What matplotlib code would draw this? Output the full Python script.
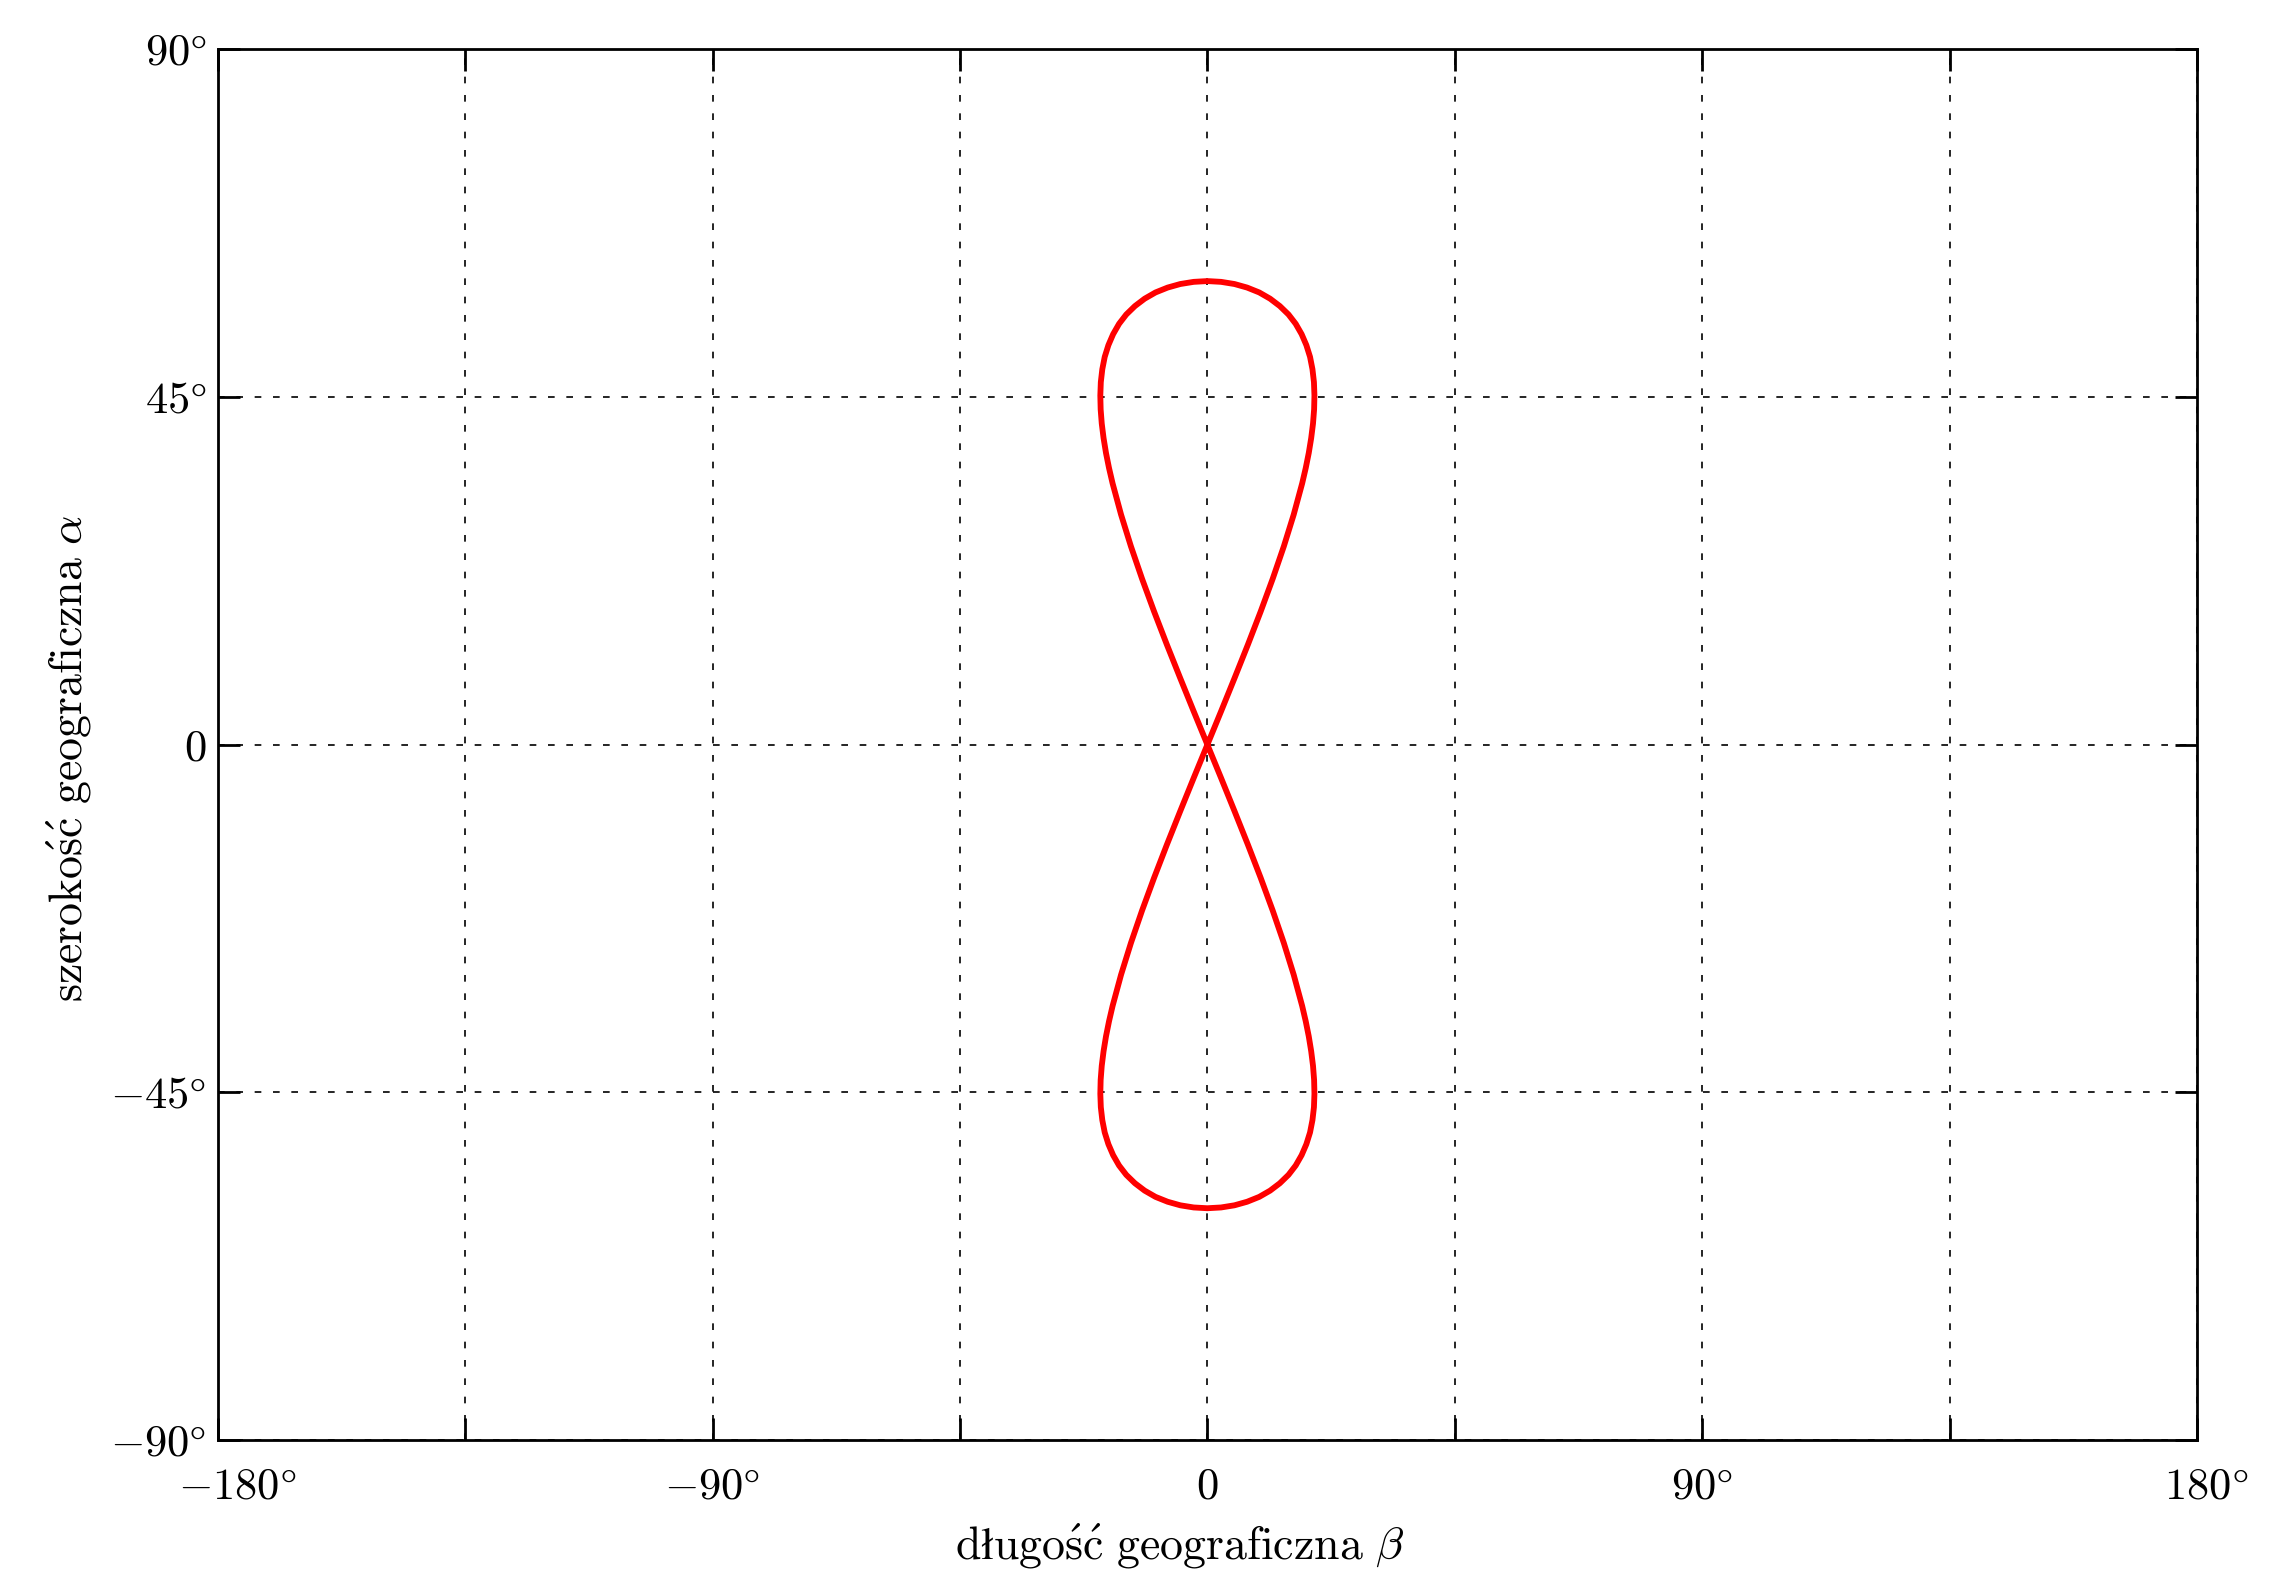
import matplotlib
matplotlib.use("Agg")
import matplotlib.pyplot as plt

# Ground track (longitude beta, latitude alpha), degrees
# upper loop, left branch: origin -> top
ul_lon = [0, -2.50, -4.96, -7.37, -9.69, -11.88, -13.90, -15.70, -17.24, -17.89, -18.44,
          -18.88, -19.21, -19.41, -19.47, -19.38, -19.11, -18.67, -18.00, -17.14, -16.06,
          -14.75, -13.17, -11.41, -9.43, -7.23, -4.93, -2.49, 0]
ul_lat = [0, 4.33, 8.65, 12.95, 17.23, 21.47, 25.66, 29.78, 33.82, 35.81, 37.76,
          39.68, 41.56, 43.40, 45.19, 46.92, 48.59, 50.19, 51.71, 53.13, 54.47,
          55.68, 56.77, 57.72, 58.53, 59.16, 59.62, 59.90, 60]
# upper loop, right branch: top -> origin
ur_lon = [0, 2.49, 4.93, 7.23, 9.43, 11.41, 13.17, 14.75, 16.06, 17.14, 18.00,
          18.67, 19.11, 19.38, 19.47, 19.41, 19.21, 18.88, 18.44, 17.89, 17.24,
          15.70, 13.90, 11.88, 9.69, 7.37, 4.96, 2.50, 0]
ur_lat = [60, 59.90, 59.62, 59.16, 58.53, 57.72, 56.77, 55.68, 54.47, 53.13, 51.71,
          50.19, 48.59, 46.92, 45.19, 43.40, 41.56, 39.68, 37.76, 35.81, 33.82,
          29.78, 25.66, 21.47, 17.23, 12.95, 8.65, 4.33, 0]
# lower loop, left branch: origin -> bottom
ll_lon = [0, -2.50, -4.96, -7.37, -9.69, -11.88, -13.90, -15.70, -17.24, -17.89, -18.44,
          -18.88, -19.21, -19.41, -19.47, -19.38, -19.11, -18.67, -18.00, -17.14, -16.06,
          -14.75, -13.17, -11.41, -9.43, -7.23, -4.93, -2.49, 0]
ll_lat = [0, -4.33, -8.65, -12.95, -17.23, -21.47, -25.66, -29.78, -33.82, -35.81, -37.76,
          -39.68, -41.56, -43.40, -45.19, -46.92, -48.59, -50.19, -51.71, -53.13, -54.47,
          -55.68, -56.77, -57.72, -58.53, -59.16, -59.62, -59.90, -60]
# lower loop, right branch: bottom -> origin
lr_lon = [0, 2.49, 4.93, 7.23, 9.43, 11.41, 13.17, 14.75, 16.06, 17.14, 18.00,
          18.67, 19.11, 19.38, 19.47, 19.41, 19.21, 18.88, 18.44, 17.89, 17.24,
          15.70, 13.90, 11.88, 9.69, 7.37, 4.96, 2.50, 0]
lr_lat = [-60, -59.90, -59.62, -59.16, -58.53, -57.72, -56.77, -55.68, -54.47, -53.13, -51.71,
          -50.19, -48.59, -46.92, -45.19, -43.40, -41.56, -39.68, -37.76, -35.81, -33.82,
          -29.78, -25.66, -21.47, -17.23, -12.95, -8.65, -4.33, 0]

lon_deg = ul_lon + ur_lon + ll_lon + lr_lon
lat_deg = ul_lat + ur_lat + ll_lat + lr_lat

x_ticks = [-180, -135, -90, -45, 0, 45, 90, 135, 180]
x_labels = [r"$\quad{-180}\degree$", "", r"$-90\degree$", "", r"$0$", "", r"$90\degree$", "",
            r"$\enspace180\degree$"]
y_ticks = [-90, -45, 0, 45, 90]
y_labels = [r"$-90\degree$", r"$-45\degree$", r"$0$", r"$45\degree$", r"$90\degree$"]

x_title = r"$\mathrm{d\l ugo\acute{s}\acute{c}\ geograficzna}\ \beta$"
y_title = r"$\mathrm{szeroko\acute{s}\acute{c}\ geograficzna}\ \alpha$"

plt.rcParams["font.family"] = ["cmr10", "DejaVu Serif"]
plt.rcParams["mathtext.fontset"] = "cm"
plt.rcParams["axes.unicode_minus"] = False

fig = plt.figure(figsize=(11.37, 7.875), dpi=200)
ax = fig.add_axes([0.0957, 0.0857, 0.9662 - 0.0957, 0.9687 - 0.0857])

ax.plot(lon_deg, lat_deg, color="#ff0000", linewidth=2.1, solid_joinstyle="round",
        solid_capstyle="round", zorder=3)

ax.set_xlim(-180, 180)
ax.set_ylim(-90, 90)
ax.set_xticks(x_ticks)
ax.set_xticklabels(x_labels, fontsize=16)
ax.set_yticks(y_ticks)
ax.set_yticklabels(y_labels, fontsize=16)

ax.tick_params(direction="in", top=True, right=True, length=8, width=1.0)
ax.tick_params(axis="x", pad=10)
ax.tick_params(axis="y", pad=4)
for s in ax.spines.values():
    s.set_linewidth(1.0)

ax.grid(True, color="black", linewidth=0.6, linestyle=(0, (4, 7)))

ax.set_xlabel(x_title, fontsize=16.5, labelpad=5)
ax.set_ylabel(y_title, fontsize=16.5, labelpad=6)
ax.xaxis.label.set_x(0.486)
ax.yaxis.label.set_y(0.49)

fig.savefig("out.png", dpi=200)
